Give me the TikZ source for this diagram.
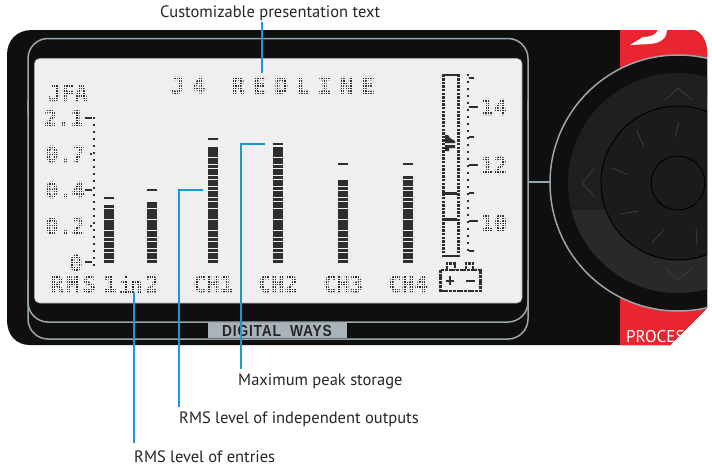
\documentclass[tikz,border=0pt]{standalone}
\usepackage{fontspec}
\setmainfont{PT Sans}
\newfontfamily\lcdfont{DejaVu Sans Mono}[BoldFont={DejaVu Sans Mono Bold},BoldFeatures={FakeBold=1.6}]
\newfontfamily\lcdwide{DejaVu Sans Mono}[BoldFont={DejaVu Sans Mono Bold},BoldFeatures={FakeBold=1.6},LetterSpace=34]
\newfontfamily\lcdtight{DejaVu Sans Mono}[BoldFont={DejaVu Sans Mono Bold},BoldFeatures={FakeBold=1.6},LetterSpace=-12]
\newfontfamily\lcdrms{DejaVu Sans Mono}[BoldFont={DejaVu Sans Mono Bold},BoldFeatures={FakeBold=1.6},LetterSpace=13]
\newfontfamily\capfont{PT Sans}
\newfontfamily\brandfont{Liberation Sans}[FakeStretch=0.86,LetterSpace=5]
\definecolor{bluecall}{HTML}{1A9AD4}
\definecolor{lcdbg}{HTML}{EFEFEF}
\definecolor{lcdink}{HTML}{2E2E2E}
\definecolor{trim}{HTML}{9AA6AD}
\definecolor{body}{HTML}{0F0F0F}
\definecolor{redpanel}{HTML}{E9252F}
\definecolor{discc}{HTML}{1F1F1F}
\definecolor{disclow}{HTML}{292929}
\definecolor{hubc}{HTML}{1B1B1B}
\definecolor{nickc}{HTML}{3E3E3E}
\tikzset{
  x=1pt,y=-1pt,
  callout/.style={draw=bluecall,line width=2pt},
  captext/.style={font=\capfont\fontsize{16.5}{17}\selectfont,text=black!85,inner sep=0pt,anchor=west},
  lcd/.style={font=\lcdfont\bfseries\fontsize{22}{22}\selectfont,text=lcdink,inner sep=0pt},
  lcdn/.style={font=\lcdtight\bfseries\fontsize{22}{22}\selectfont,text=lcdink,inner sep=0pt},
  lcdr/.style={font=\lcdrms\bfseries\fontsize{22}{22}\selectfont,text=lcdink,inner sep=0pt},
  lcdt/.style={font=\lcdwide\bfseries\fontsize{23}{23}\selectfont,text=lcdink,inner sep=0pt},
  trimline/.style={draw=trim,line width=1.5pt},
  dial/.style={draw=black,line width=1pt},
  nick/.style={draw=nickc,line width=.8pt},
}
\newcommand{\lcdbar}[4]{% x, top, bottom, peak y
  \pgfmathsetmacro{\xr}{#1+10}
  \fill[lcdink] (#1,#4) rectangle (\xr,#4+2.4);
  \pgfmathtruncatemacro{\nrows}{(#3-#2)/3.65}
  \foreach \ii in {0,...,\nrows}{\fill[lcdink] (#1,#3-\ii*3.65-3.1) rectangle (\xr,#3-\ii*3.65);}
}
\begin{document}
\begin{tikzpicture}
\useasboundingbox (0,0) rectangle (712,474);
\fill[white] (0,0) rectangle (712,474);
% body
\fill[body] (32,30) -- (692,30) .. controls (700,30) and (707,40) .. (707,52) -- (707,308) -- (670,345) -- (30,345)
  .. controls (16,345) and (7,335) .. (7,320) -- (7,55) .. controls (7,40) and (17,30) .. (32,30) -- cycle;
% red panels
\fill[redpanel] (620,30) -- (692,30) .. controls (700,30) and (707,40) .. (707,52) -- (707,100) -- (620,100) -- cycle;
\fill[white] (630,45) -- (650,44) .. controls (662,43) and (667,37) .. (667,30) -- (658,30) .. controls (656,35) and (650,37) .. (643,37) -- cycle;
\fill[redpanel] (620,290) -- (707,290) -- (707,308) -- (670,345) -- (620,345) -- cycle;
\begin{scope}
  \clip (620,290) -- (707,290) -- (707,308) -- (670,345) -- (620,345) -- cycle;
  \node[font=\capfont\fontsize{17}{17}\selectfont,text=white,inner sep=0pt,anchor=west] (proc) at (626,337) {PROCESS};
\end{scope}
% dial
\begin{scope}
  \clip (540,30) -- (707,30) -- (707,308) -- (670,345) -- (540,345) -- cycle;
  \fill[body] (678,183) circle (128);
  \draw[trimline] (678,183) circle (128);
  \fill[discc] (678,183) circle (110);
  \begin{scope}
    \clip (678,183) circle (110);
    \fill[disclow] (560,210) rectangle (707,296);
  \end{scope}
  \fill[hubc] (678,183) circle (77);
  \draw[dial] (678,183) circle (77);
  \draw[dial] (678,183) circle (27);
  \draw[nick] (665,100) -- (678,88) -- (692,100);
  \draw[nick] (595,168) -- (582,183) -- (595,197);
  \draw[nick] (665,268) -- (678,280) -- (692,268);
  \draw[nick] (637,131) -- (644,147);
  \draw[nick] (675,137) -- (679,122);
  \draw[nick] (612,168) -- (628,175);
  \draw[nick] (621,214) -- (638,211);
  \draw[nick] (652,243) -- (664,229);
  \draw[nick] (696,228) -- (697,245);
\end{scope}
\coordinate (dialL) at (550,182);
% bezel
\draw[trimline,rounded corners=20pt] (28,115) -- (28,38.5) -- (528,38.5) -- (528,120);
\draw[trimline,rounded corners=20pt] (28,100) -- (28,322) -- (528,322) -- (528,100);
\draw[trimline,rounded corners=20pt] (28,280) -- (28,339) -- (528,339) -- (528,280);
\coordinate (bezelR) at (528,182);
\draw[trimline] (bezelR) -- (dialL);
\fill[trim!85!white] (208,322.7) rectangle (347,338.3);
\node[font=\brandfont\bfseries\fontsize{16}{16}\selectfont,text=black!85,inner sep=0pt] (brand) at (277,331) {DIGITAL\ \ WAYS};
% LCD
\fill[lcdbg,draw=black!35,line width=.6pt,rounded corners=5pt] (34.5,58.5) rectangle (522,303);
% LCD text
\node[lcdt] (t1) at (188,85.5) {J4};
\node[lcdt] (t2) at (303,85.5) {REDLINE};
\node[lcd] (jfa) at (68,93) {JFA};
\node[lcd] (s21) at (64,118) {2.1};
\node[lcd] (s07) at (65,154) {0.7};
\node[lcd] (s04) at (65,190) {0.4};
\node[lcd] (s02) at (65,226) {0.2};
\node[lcd] (s00) at (76,263) {0};
\node[lcdr] (rms) at (73,284) {RMS};
\node[lcd] (one) at (110,284) {1};
\node[lcdn] (in) at (131,284) {in};
\node[lcd] (two) at (152,284) {2};
\node[lcd] (ch1) at (213,284) {CH1};
\node[lcd] (ch2) at (278,284) {CH2};
\node[lcd] (ch3) at (343,284) {CH3};
\node[lcd] (ch4) at (408,284) {CH4};
\node[lcd] (r14) at (494,107) {14};
\node[lcd] (r12) at (494,165) {12};
\node[lcd] (r10) at (494,223) {10};
% dot-matrix raster over the text
\begin{scope}
  \clip (36,60) rectangle (520,300);
  \foreach \gx in {36,38.45,...,520}{\draw[lcdbg,line width=.3pt] (\gx,60) -- (\gx,300);}
  \foreach \gy in {60,62.45,...,300}{\draw[lcdbg,line width=.3pt] (36,\gy) -- (520,\gy);}
\end{scope}
% bars
\lcdbar{104}{207}{263}{196.5}
\lcdbar{147}{203}{263}{188.5}
\lcdbar{208}{147}{263}{137.5}
\lcdbar{273}{148}{263}{142.5}
\lcdbar{338}{181}{263}{163}
\lcdbar{403}{178}{263}{163}
% left scale
\foreach \yy in {118,125,...,265}{\fill[lcdink] (92.8,\yy-1.2) rectangle (95.2,\yy+1.2);}
\foreach \yy in {118,190,262}{\fill[lcdink] (85,\yy-1.2) rectangle (92,\yy+1.2);}
\foreach \yy in {154,226}{\fill[lcdink] (89.5,\yy-1.2) rectangle (92,\yy+1.2);}
% tall bar
\draw[lcdink,line width=3pt,dash pattern=on 2.5pt off 1.1pt] (443.6,257) -- (443.6,74);
\draw[lcdink,line width=3pt,dash pattern=on 2.5pt off 1.1pt] (458,257) -- (458,74);
\fill[lcdink] (442,73.5) rectangle (460,76);
\fill[lcdink] (442,254.5) rectangle (460,257);
\fill[lcdink] (442,192) rectangle (457,194.5);
\fill[lcdink] (442,218) rectangle (457,220.5);
\fill[lcdink] (445,135) -- (445,143) -- (455,143) -- (455,141) -- (450,138) -- (448,135) -- cycle;
\fill[lcdink] (445,145) -- (445,151) -- (449,151) -- (449,148) -- (455,148) -- (455,145) -- cycle;
% right scale
\foreach \yy in {75,82,...,253}{\fill[lcdink] (467,\yy-1.2) rectangle (469.4,\yy+1.2);}
\foreach \yy in {107,165,221}{\fill[lcdink] (469.4,\yy-1.2) rectangle (478,\yy+1.2);}
\foreach \yy in {78,137,193,251}{\fill[lcdink] (469.4,\yy-1.2) rectangle (474,\yy+1.2);}
% battery
\draw[lcdink,line width=2.6pt,dash pattern=on 3pt off .7pt] (440.5,270) rectangle (480.5,291);
\draw[lcdink,line width=2.4pt,dash pattern=on 3pt off .7pt] (447,269) -- (447,263.5) -- (455,263.5) -- (455,269);
\draw[lcdink,line width=2.4pt,dash pattern=on 3pt off .7pt] (466,269) -- (466,263.5) -- (473,263.5) -- (473,269);
\fill[lcdink] (446,279.5) rectangle (454,281.8);
\fill[lcdink] (449,276) rectangle (451,285);
\fill[lcdink] (466,279.5) rectangle (475,281.8);
% captions
\node[captext] (capA) at (160,13) {Customizable presentation text};
\node[captext] (capB) at (238,381) {Maximum peak storage};
\node[captext] (capC) at (179,419) {RMS level of independent outputs};
\node[captext] (capD) at (134,457) {RMS level of entries};
% callouts
\coordinate (endA) at (262,73);
\coordinate (startA) at (262,22);
\coordinate (endB) at (265,144);
\coordinate (footB) at (241,369);
\coordinate (endC) at (203,190);
\coordinate (footC) at (179,407);
\coordinate (endD) at (134,292);
\coordinate (footD) at (134,443);
\draw[callout] (startA) -- (endA);
\draw[callout] (footB) |- (endB);
\draw[callout] (footC) |- (endC);
\draw[callout] (footD) -- (endD);
\end{tikzpicture}
\end{document}
